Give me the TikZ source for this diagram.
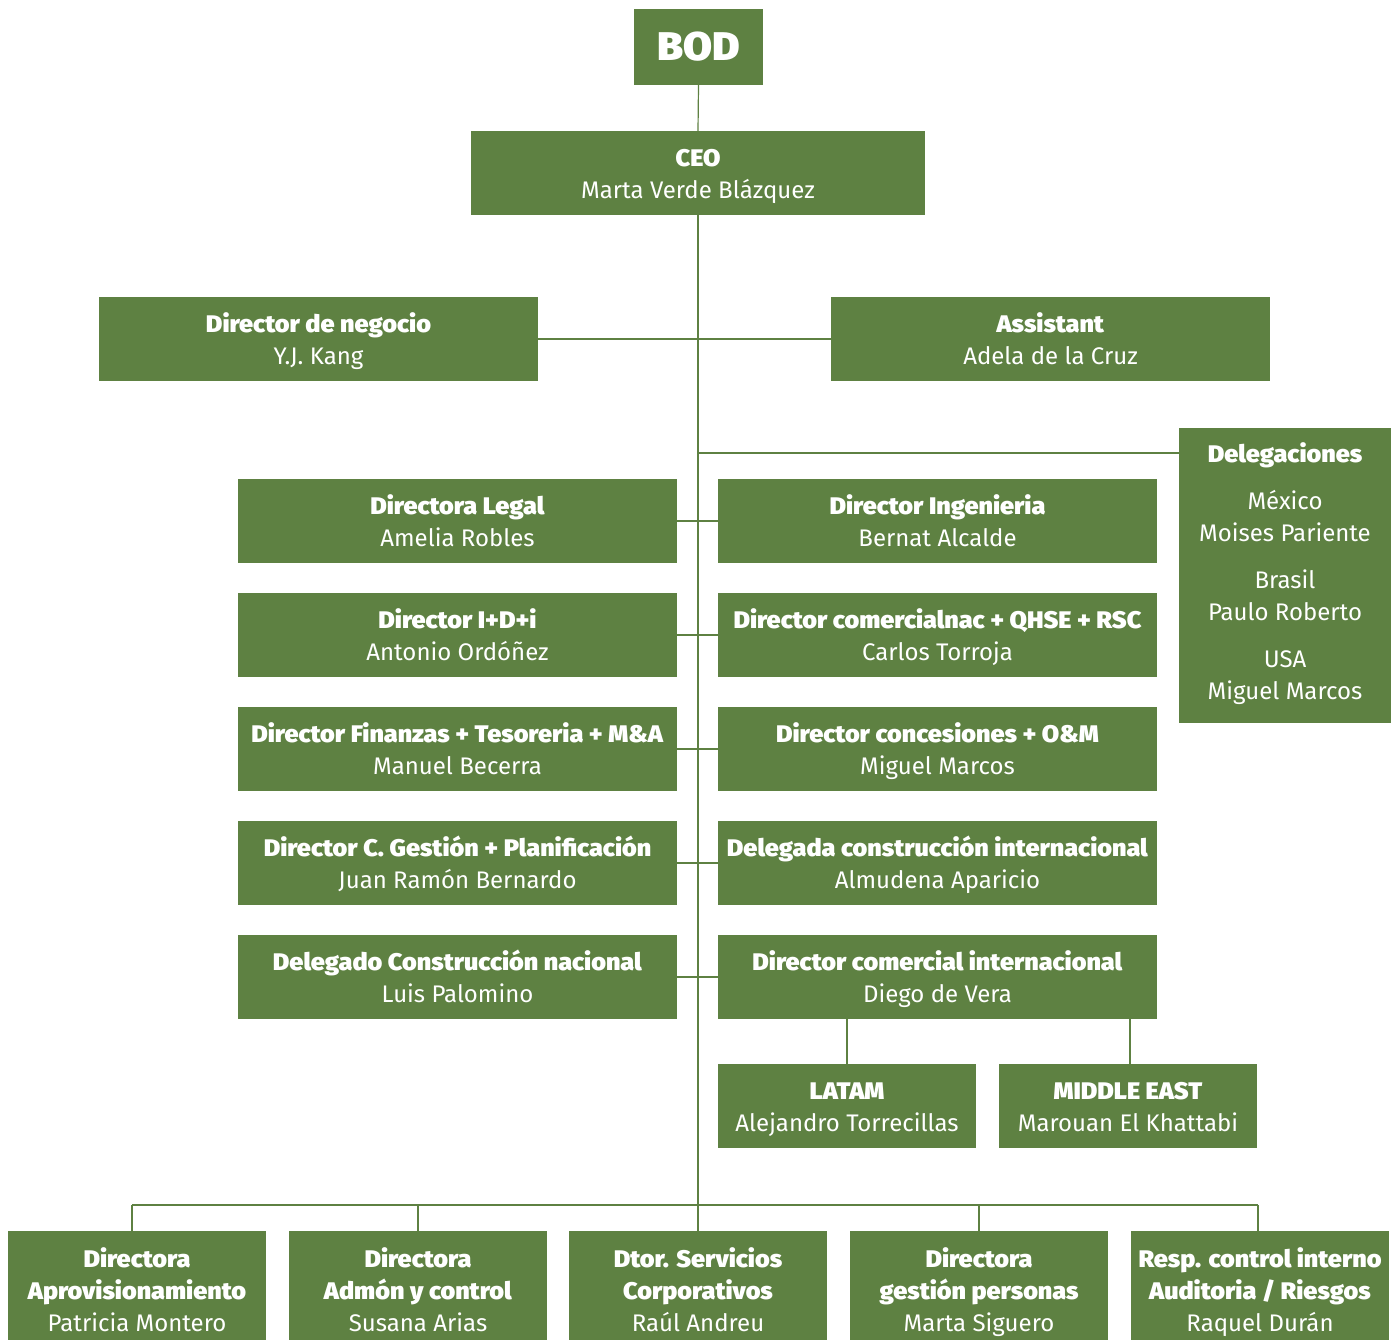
\documentclass[tikz,border=0pt]{standalone}
\usepackage{fontspec}
\setmainfont{Fira Sans}[BoldFont={Fira Sans Black},BoldFeatures={FakeStretch=1.05}]
\definecolor{ogreen}{HTML}{5E8142}
\newcommand\myst{\rule[-8pt]{0pt}{23pt}}
\newcommand\mytop{\rule{0pt}{27pt}}
\newcommand\mybot{\rule[-8pt]{0pt}{8pt}}
\begin{document}
\begin{tikzpicture}[x=1pt,y=-1pt,
  box/.style={fill=ogreen, text=white, inner sep=0pt, align=center,
    font=\fontsize{24}{32}\selectfont},
  wide/.style={box, minimum width=439pt, minimum height=84pt},
  small/.style={box, minimum width=258pt, minimum height=84pt},
  bottom/.style={box, minimum width=258pt, minimum height=118pt},
  conn/.style={draw=ogreen, line width=1.2pt}]
\useasboundingbox[fill=white] (0,0) rectangle (1397,1340);

\node[box, minimum width=129pt, minimum height=76pt, font=\fontsize{40}{48}\selectfont\bfseries] (bod) at (698.5,47) {\raisebox{-2pt}{BOD}};
\node[box, minimum width=454pt, minimum height=84pt] (ceo) at (698,173) {\mytop\textbf{CEO}\\\mybot Marta Verde Blázquez};
\node[wide] (neg) at (318.5,339) {\mytop\textbf{Director de negocio}\\\mybot Y.J. Kang};
\node[wide] (asis) at (1050.5,339) {\mytop\textbf{Assistant}\\\mybot Adela de la Cruz};
\node[box, minimum width=212pt, minimum height=295pt] (del) at (1285,575.5) {\myst\textbf{Delegaciones}\\[15pt]México\\Moises Pariente\\[15pt]Brasil\\Paulo Roberto\\[15pt]USA\\\myst Miguel Marcos};

\node[wide] (legal) at (457.5,521) {\mytop\textbf{Directora Legal}\\\mybot Amelia Robles};
\node[wide] (ing) at (937.5,521) {\mytop\textbf{Director Ingenieria}\\\mybot Bernat Alcalde};
\node[wide] (idi) at (457.5,635) {\mytop\textbf{Director I+D+i}\\\mybot Antonio Ordóñez};
\node[wide] (comnac) at (937.5,635) {\mytop\textbf{Director comercialnac + QHSE + RSC}\\\mybot Carlos Torroja};
\node[wide] (fin) at (457.5,749) {\mytop\textbf{Director Finanzas + Tesoreria + M\&A}\\\mybot Manuel Becerra};
\node[wide] (conc) at (937.5,749) {\mytop\textbf{Director concesiones + O\&M}\\\mybot Miguel Marcos};
\node[wide] (gest) at (457.5,863) {\mytop\textbf{Director C. Gestión + Planificación}\\\mybot Juan Ramón Bernardo};
\node[wide] (consint) at (937.5,863) {\mytop\textbf{Delegada construcción internacional}\\\mybot Almudena Aparicio};
\node[wide] (consnac) at (457.5,977) {\mytop\textbf{Delegado Construcción nacional}\\\mybot Luis Palomino};
\node[wide] (comint) at (937.5,977) {\mytop\textbf{Director comercial internacional}\\\mybot Diego de Vera};

\node[small] (latam) at (847,1106) {\mytop\textbf{LATAM}\\\mybot Alejandro Torrecillas};
\node[small] (me) at (1128,1106) {\mytop\textbf{MIDDLE EAST}\\\mybot Marouan El Khattabi};

\node[bottom] (b1) at (137,1290) {\mytop\textbf{Directora}\\\textbf{Aprovisionamiento}\\\mybot Patricia Montero};
\node[bottom] (b2) at (418,1290) {\mytop\textbf{Directora}\\\textbf{Admón y control}\\\mybot Susana Arias};
\node[bottom] (b3) at (698,1290) {\mytop\textbf{Dtor. Servicios}\\\textbf{Corporativos}\\\mybot Raúl Andreu};
\node[bottom] (b4) at (979,1290) {\mytop\textbf{Directora}\\\textbf{gestión personas}\\\mybot Marta Siguero};
\node[bottom] (b5) at (1260,1290) {\mytop\textbf{Resp. control interno}\\\textbf{Auditoria / Riesgos}\\\mybot Raquel Durán};

\coordinate (jdel) at (698,453);
\coordinate (jbot) at (698,1205);
\coordinate (busl) at (132,1205);
\coordinate (busr) at (1258,1205);

\draw[conn] (bod.south) -- (ceo.north);
\draw[conn] (ceo.south) -- (jbot);
\draw[conn] (neg.east) -- (asis.west);
\draw[conn] (jdel) -- (jdel -| del.west);
\draw[conn] (legal.east) -- (ing.west);
\draw[conn] (idi.east) -- (comnac.west);
\draw[conn] (fin.east) -- (conc.west);
\draw[conn] (gest.east) -- (consint.west);
\draw[conn] (consnac.east) -- (comint.west);
\draw[conn] (comint.south -| latam.north) -- (latam.north);
\draw[conn] (comint.south -| 1130,0) -- (me.north -| 1130,0);
\draw[conn] (busl) -- (busr);
\draw[conn] (busl) -- (busl |- b1.north);
\draw[conn] (jbot |- busl) -- (b3.north);
\draw[conn] (b2.north |- busl) -- (b2.north);
\draw[conn] (b4.north |- busl) -- (b4.north);
\draw[conn] (busr) -- (busr |- b5.north);
\end{tikzpicture}
\end{document}
